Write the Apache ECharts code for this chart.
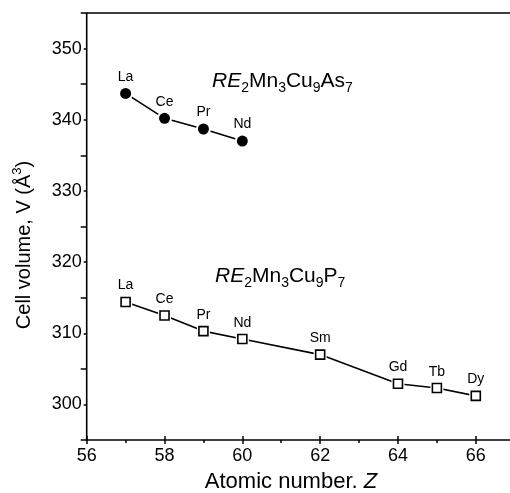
<!DOCTYPE html>
<html>
<head>
<meta charset="utf-8">
<script src="https://cdn.jsdelivr.net/npm/echarts@6/dist/echarts.min.js"></script>
<style>html,body{margin:0;padding:0;background:#fff;}#c{width:510px;height:493px;}</style>
</head>
<body>
<div id="c"></div>
<script>
// Data
const zAs = [57, 58, 59, 60];
const vAs = [343.7, 340.2, 338.7, 337.0];
const labAs = ['La', 'Ce', 'Pr', 'Nd'];
const zP = [57, 58, 59, 60, 62, 64, 65, 66];
const vP = [314.4, 312.5, 310.3, 309.2, 307.0, 302.9, 302.3, 301.2];
const labP = ['La', 'Ce', 'Pr', 'Nd', 'Sm', 'Gd', 'Tb', 'Dy'];
const xTicks = [56, 58, 60, 62, 64, 66];
const yTicks = [300, 310, 320, 330, 340, 350];

const F = 'Liberation Sans, Arial, sans-serif';
const pts = (xs, ys, labs) => xs.map((x, i) => ({ value: [x, ys[i]], name: labs[i] }));
const asData = pts(zAs, vAs, labAs);
const pData = pts(zP, vP, labP);

const lbl = {
  show: true, position: 'top', distance: 4, formatter: p => p.name,
  color: '#000', fontFamily: F, fontSize: 14
};
const richF = {
  i: { fontFamily: F, fontSize: 21, fontStyle: 'italic', lineHeight: 28, fill: '#000' },
  n: { fontFamily: F, fontSize: 21, lineHeight: 28, fill: '#000' },
  s: { fontFamily: F, fontSize: 14, lineHeight: 14, verticalAlign: 'bottom', fill: '#000' }
};

const chart = echarts.init(document.getElementById('c'));
chart.setOption({
  animation: false,
  backgroundColor: '#fff',
  grid: { left: 86.7, width: 428, top: 13, height: 427, outerBoundsMode: 'none', containLabel: false, show: true, borderColor: '#000', borderWidth: 1.6, backgroundColor: 'transparent' },
  xAxis: [{
    type: 'value', min: 56, max: 67, interval: 2,
    axisLine: { show: false },
    axisTick: { show: true, inside: false, length: 4, lineStyle: { color: '#000', width: 1.5 } },
    minorTick: { show: true, splitNumber: 2, length: 3, lineStyle: { color: '#000', width: 1.5 } },
    splitLine: { show: false },
    axisLabel: {
      color: '#000', fontFamily: F, fontSize: 18, margin: 7,
      formatter: v => (xTicks.indexOf(v) >= 0 ? String(v) : '')
    }
  }, {
    type: 'value', min: 56, max: 67, interval: 2, position: 'bottom',
    axisLine: { show: false },
    axisTick: { show: true, inside: true, length: 4, lineStyle: { color: '#000', width: 1.5 } },
    splitLine: { show: false }, axisLabel: { show: false }
  }],
  yAxis: {
    type: 'value', min: 295, max: 355, interval: 10,
    axisLine: { show: false },
    axisTick: { show: true, inside: false, length: 6, lineStyle: { color: '#000', width: 1.5 } },
    minorTick: { show: true, splitNumber: 2, length: 3, lineStyle: { color: '#000', width: 1.5 } },
    splitLine: { show: false },
    axisLabel: {
      color: '#000', fontFamily: F, fontSize: 18, margin: 5,
      customValues: yTicks
    }
  },
  series: [
    { type: 'line', data: asData, showSymbol: false, lineStyle: { color: '#000', width: 1.6 }, silent: true, z: 1 },
    { type: 'scatter', data: asData, symbol: 'circle', symbolSize: 15, itemStyle: { color: '#fff', opacity: 1 }, silent: true, z: 2 },
    { type: 'scatter', data: asData, symbol: 'circle', symbolSize: 11, itemStyle: { color: '#000', opacity: 1 }, label: lbl, z: 3 },
    { type: 'line', data: pData, showSymbol: false, lineStyle: { color: '#000', width: 1.6 }, silent: true, z: 1 },
    { type: 'scatter', data: pData, symbol: 'rect', symbolSize: 13, itemStyle: { color: '#fff', opacity: 1 }, silent: true, z: 2 },
    { type: 'scatter', data: pData, symbol: 'rect', symbolSize: 9, itemStyle: { color: '#fff', borderColor: '#000', borderWidth: 1.6, opacity: 1 }, label: lbl, z: 3 }
  ],
  graphic: [
    {
      type: 'text', left: 212, top: 71, z: 10,
      style: { text: '{i|RE}{s|2}{n|Mn}{s|3}{n|Cu}{s|9}{n|As}{s|7}', rich: richF }
    },
    {
      type: 'text', left: 215, top: 266, z: 10,
      style: { text: '{i|RE}{s|2}{n|Mn}{s|3}{n|Cu}{s|9}{n|P}{s|7}', rich: richF }
    },
    {
      type: 'text', x: 291, y: 482, z: 10,
      style: {
        text: '{n|Atomic number. }{i|Z}', align: 'center', verticalAlign: 'middle',
        rich: {
          n: { fontFamily: F, fontSize: 22, fill: '#000' },
          i: { fontFamily: F, fontSize: 22, fontStyle: 'italic', fill: '#000' }
        }
      }
    },
    {
      type: 'text', x: 24, y: 245, rotation: Math.PI / 2, z: 10,
      style: {
        text: '{n|Cell volume, V (Å}{p|3}{n|)}', align: 'center', verticalAlign: 'middle',
        rich: {
          n: { fontFamily: F, fontSize: 20, lineHeight: 26, fill: '#000' },
          p: { fontFamily: F, fontSize: 13, lineHeight: 13, verticalAlign: 'top', fill: '#000' }
        }
      }
    }
  ]
});
</script>
</body>
</html>
